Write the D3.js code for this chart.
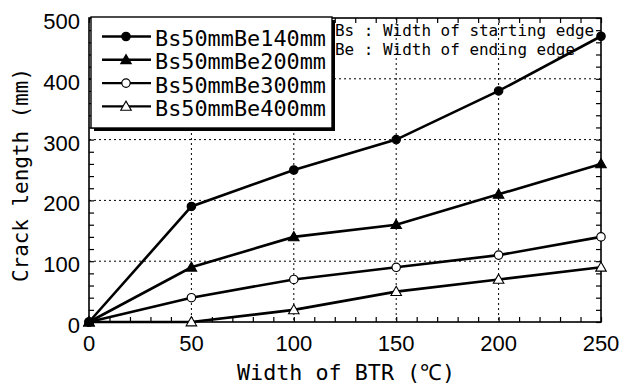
<!DOCTYPE html>
<html>
<head>
<meta charset="utf-8">
<script src="https://cdn.jsdelivr.net/npm/d3@7"></script>
<style>
  body { margin: 0; background: #fff; }
  svg { display: block; }
</style>
</head>
<body>
<svg id="chart" width="621" height="387"></svg>
<script>
// data
const widths = [0, 50, 100, 150, 200, 250];
const be140 = [0, 190, 250, 300, 380, 470];
const be200 = [0, 90, 140, 160, 210, 260];
const be300 = [0, 40, 70, 90, 110, 140];
const be400 = [0, 0, 20, 50, 70, 90];
const seriesNames = ["Bs50mmBe140mm", "Bs50mmBe200mm", "Bs50mmBe300mm", "Bs50mmBe400mm"];
const seriesMarkers = ["circleFill", "triFill", "circleOpen", "triOpen"];
const xTicks = [0, 50, 100, 150, 200, 250];
const yTicks = [0, 100, 200, 300, 400, 500];
const notes = ["Bs : Width of starting edge", "Be : Width of ending edge"];

const series = [be140, be200, be300, be400].map((vals, i) => ({
  name: seriesNames[i],
  marker: seriesMarkers[i],
  points: widths.map((w, j) => ({ x: w, y: vals[j] }))
}));

const svg = d3.select("#chart");
const pLeft = 89, pRight = 601, pTop = 18, pBottom = 322;

const x = d3.scaleLinear().domain([0, 250]).range([pLeft, pRight]);
const y = d3.scaleLinear().domain([0, 500]).range([pBottom, pTop]);

const numFont = "'Liberation Sans', Arial, sans-serif";
const monoFont = "'DejaVu Sans Mono', monospace";

// dotted grid
const grid = svg.append("g").attr("stroke", "#000").attr("stroke-width", 1)
  .attr("stroke-dasharray", "2,3");
grid.selectAll(".gx").data(xTicks.slice(1, -1)).enter().append("line")
  .attr("x1", d => x(d)).attr("x2", d => x(d))
  .attr("y1", pTop).attr("y2", pBottom);
grid.selectAll(".gy").data(yTicks.slice(1, -1)).enter().append("line")
  .attr("y1", d => y(d)).attr("y2", d => y(d))
  .attr("x1", pLeft).attr("x2", pRight);

// inward minor ticks on all four sides
const xMinor = d3.range(0, 251, 10);
const yMinor = d3.range(0, 501, 20);
const tickLen = 5;

svg.append("g")
  .attr("transform", `translate(0,${pBottom})`)
  .call(d3.axisBottom(x).tickValues(xMinor).tickSizeInner(-tickLen).tickSizeOuter(0).tickFormat(""))
  .call(g => g.select(".domain").remove());
svg.append("g")
  .attr("transform", `translate(0,${pTop})`)
  .call(d3.axisTop(x).tickValues(xMinor).tickSizeInner(-tickLen).tickSizeOuter(0).tickFormat(""))
  .call(g => g.select(".domain").remove());
svg.append("g")
  .attr("transform", `translate(${pLeft},0)`)
  .call(d3.axisLeft(y).tickValues(yMinor).tickSizeInner(-tickLen).tickSizeOuter(0).tickFormat(""))
  .call(g => g.select(".domain").remove());
svg.append("g")
  .attr("transform", `translate(${pRight},0)`)
  .call(d3.axisRight(y).tickValues(yMinor).tickSizeInner(-tickLen).tickSizeOuter(0).tickFormat(""))
  .call(g => g.select(".domain").remove());

svg.selectAll(".tick line").attr("stroke", "#000").attr("stroke-width", 1.2);

// frame
svg.append("rect")
  .attr("x", pLeft).attr("y", pTop)
  .attr("width", pRight - pLeft).attr("height", pBottom - pTop)
  .attr("fill", "none").attr("stroke", "#000").attr("stroke-width", 1.6);

// tick labels
svg.append("g").selectAll("text").data(xTicks).enter().append("text")
  .attr("x", d => x(d)).attr("y", pBottom + 29)
  .attr("text-anchor", "middle")
  .attr("font-family", numFont).attr("font-size", 22)
  .text(d => d);
svg.append("g").selectAll("text").data(yTicks).enter().append("text")
  .attr("x", pLeft - 9).attr("y", d => y(d) + 11)
  .attr("text-anchor", "end")
  .attr("font-family", numFont).attr("font-size", 22)
  .text(d => d);

// axis titles
svg.append("text")
  .attr("x", 346).attr("y", 380)
  .attr("text-anchor", "middle")
  .attr("font-family", monoFont).attr("font-size", 22)
  .attr("textLength", 218).attr("lengthAdjust", "spacingAndGlyphs")
  .text("Width of BTR (\u2103)");
svg.append("text")
  .attr("transform", "translate(28,175) rotate(-90)")
  .attr("text-anchor", "middle")
  .attr("font-family", monoFont).attr("font-size", 22)
  .attr("textLength", 214).attr("lengthAdjust", "spacingAndGlyphs")
  .text("Crack length (mm)");

// markers
const triPath = d3.symbol().type(d3.symbolTriangle).size(48);
function drawMarker(g, kind, cx, cy) {
  if (kind === "circleFill" || kind === "circleOpen") {
    g.append("circle").attr("cx", cx).attr("cy", cy).attr("r", 4.2)
      .attr("fill", kind === "circleFill" ? "#000" : "#fff")
      .attr("stroke", "#000").attr("stroke-width", 1.2);
  } else {
    g.append("path").attr("d", triPath())
      .attr("transform", `translate(${cx},${cy + 0.8})`)
      .attr("fill", kind === "triFill" ? "#000" : "#fff")
      .attr("stroke", "#000").attr("stroke-width", 1.1);
  }
}

// lines + points
const line = d3.line().x(d => x(d.x)).y(d => y(d.y));
const plot = svg.append("g");
series.forEach(s => {
  plot.append("path").datum(s.points)
    .attr("d", line)
    .attr("fill", "none").attr("stroke", "#000").attr("stroke-width", 2.6);
});
series.slice().reverse().forEach(s => {
  s.points.forEach(p => drawMarker(plot, s.marker, x(p.x), y(p.y)));
});

// legend box with shadow
const lg = svg.append("g");
const lx = 91, ly = 17, lw = 241, lh = 111;
lg.append("rect").attr("x", lx + 3).attr("y", ly + 3).attr("width", lw).attr("height", lh)
  .attr("fill", "#000");
lg.append("rect").attr("x", lx).attr("y", ly).attr("width", lw).attr("height", lh)
  .attr("fill", "#fff").attr("stroke", "#000").attr("stroke-width", 1.4);

series.forEach((s, i) => {
  const by = 46 + i * 23.3;
  const my = by - 9.5;
  lg.append("line").attr("x1", 102).attr("x2", 151).attr("y1", my).attr("y2", my)
    .attr("stroke", "#000").attr("stroke-width", 2.4);
  drawMarker(lg, s.marker, 126, my);
  lg.append("text")
    .attr("x", 155).attr("y", by)
    .attr("font-family", monoFont).attr("font-size", 22)
    .attr("textLength", 171).attr("lengthAdjust", "spacingAndGlyphs")
    .text(s.name);
});

// notes in upper right
notes.forEach((t, i) => {
  svg.append("text")
    .attr("x", 335).attr("y", 36 + i * 18.5)
    .attr("font-family", monoFont).attr("font-size", 16)
    .attr("textLength", t.length * 9.6).attr("lengthAdjust", "spacingAndGlyphs")
    .text(t);
});
</script>
</body>
</html>
